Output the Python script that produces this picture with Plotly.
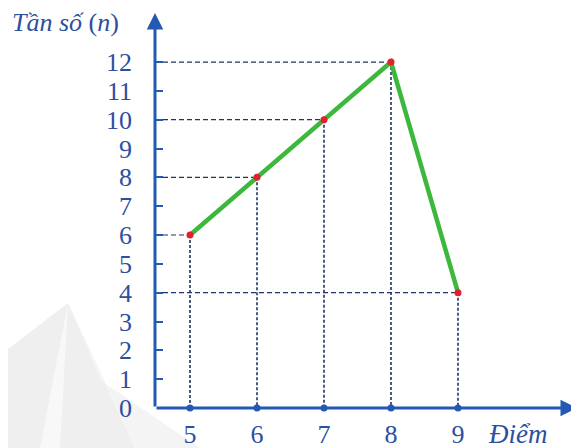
import plotly.graph_objects as go

diem = [5, 6, 7, 8, 9]
tan_so = [6, 8, 10, 12, 4]
y_ticks = list(range(0, 13))

BLUE = "#2358b4"
TEXT = "#2d4f9e"
NAVY = "#1f3264"
SERIF = "Liberation Serif"

# page body has an 8px margin, so the figure is 8px smaller and everything is shifted
# plot area (screen px): 155..575 wide, 15..408 tall; 67 px per point, 28.83 px per unit
x0 = 5 - 35 / 67
x1 = x0 + 420 / 67
y1 = 393 / 28.83

fig = go.Figure()

# dashed guides
for x, y in zip(diem, tan_so):
    fig.add_trace(go.Scatter(x=[x0, x], y=[y, y], mode="lines", hoverinfo="skip",
                             line=dict(color=NAVY, width=1.2, dash="5px,3px")))
    fig.add_trace(go.Scatter(x=[x, x], y=[y, 0], mode="lines", hoverinfo="skip",
                             line=dict(color=NAVY, width=1.6, dash="3px,2px")))

# dots on x axis
fig.add_trace(go.Scatter(x=diem, y=[0] * len(diem), mode="markers", cliponaxis=False,
                         marker=dict(color=BLUE, size=7)))

# polygon
fig.add_trace(go.Scatter(x=diem, y=tan_so, mode="lines", cliponaxis=False,
                         line=dict(color="#3cb83c", width=4.5)))
fig.add_trace(go.Scatter(x=diem, y=tan_so, mode="markers", cliponaxis=False,
                         marker=dict(color="#e3202d", size=7)))


def px(p):
    return (p - 155) / 420


def py(p):
    return (408 - p) / 393


# faint watermark shapes
fig.add_shape(type="path", xref="paper", yref="paper", layer="below",
              path=f"M {px(0)} {py(355)} L {px(68)} {py(303)} L {px(135)} {py(448)} L {px(0)} {py(448)} Z",
              fillcolor="#efefef", line_width=0)
fig.add_shape(type="path", xref="paper", yref="paper", layer="below",
              path=f"M {px(68)} {py(303)} L {px(40)} {py(448)} L {px(60)} {py(448)} Z",
              fillcolor="#f8f8f8", line_width=0)
fig.add_shape(type="path", xref="paper", yref="paper", layer="below",
              path=f"M {px(68)} {py(303)} L {px(100)} {py(380)} L {px(200)} {py(448)} L {px(135)} {py(448)} Z",
              fillcolor="#f4f4f4", line_width=0)

# axes with arrows
fig.add_annotation(x=x0, y=13.7, ax=x0, ay=0, xref="x", yref="y", axref="x", ayref="y",
                   text="", showarrow=True, arrowhead=2, arrowsize=1.1, arrowwidth=3,
                   arrowcolor=BLUE, standoff=0)
fig.add_annotation(x=5 + 387 / 67, y=0, ax=x0, ay=0, xref="x", yref="y", axref="x", ayref="y",
                   text="", showarrow=True, arrowhead=2, arrowsize=1.1, arrowwidth=3,
                   arrowcolor=BLUE, standoff=0)

fig.add_annotation(x=px(10), y=py(23), xref="paper", yref="paper", xanchor="left",
                   yanchor="middle", showarrow=False, text="<i>Tần số</i> (<i>n</i>)",
                   font=dict(family=SERIF, size=26, color=TEXT))
fig.add_annotation(x=px(486), y=py(434), xref="paper", yref="paper", xanchor="left",
                   yanchor="middle", showarrow=False, text="<i>Điểm</i>",
                   font=dict(family=SERIF, size=27, color=TEXT))

fig.update_xaxes(range=[x0, x1], tickvals=diem, showgrid=False, zeroline=False,
                 showline=False, ticks="", ticklabelstandoff=8, automargin=False,
                 tickfont=dict(family=SERIF, size=26, color=TEXT))
fig.update_yaxes(range=[0, y1], tickvals=y_ticks, showgrid=False, zeroline=False,
                 showline=False, ticks="inside", ticklen=8, tickwidth=2, tickcolor=BLUE,
                 ticklabelstandoff=22, automargin=False,
                 tickfont=dict(family=SERIF, size=26, color=TEXT))

fig.update_layout(width=571, height=440, showlegend=False,
                  margin=dict(l=147, r=4, t=7, b=40),
                  plot_bgcolor="white", paper_bgcolor="white")

fig.write_html("out.html")
